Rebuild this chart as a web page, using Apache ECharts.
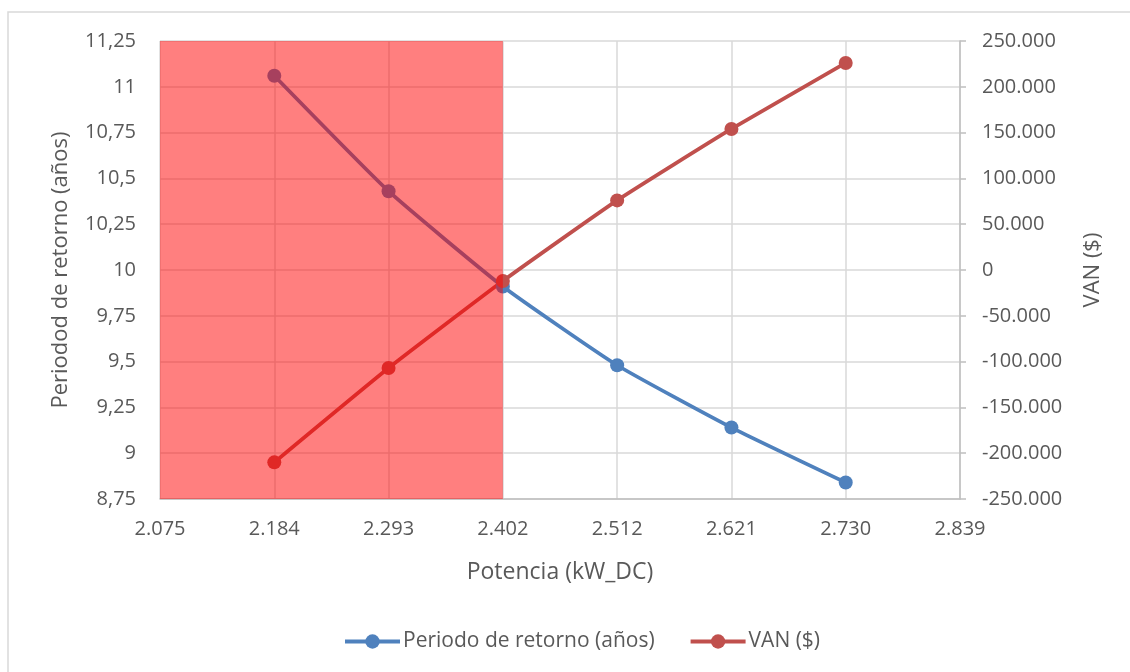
<!DOCTYPE html>
<html>
<head>
<meta charset="utf-8">
<script src="https://cdn.jsdelivr.net/npm/echarts@6/dist/echarts.min.js"></script>
<style>
  html, body { margin: 0; padding: 0; background: #fff; }
  #chart { width: 1130px; height: 672px; }
</style>
</head>
<body>
<div id="chart"></div>
<script>
// Potencia instalada (kW_DC) de cada escenario
const potencia = [2184, 2293.2, 2402.4, 2511.6, 2620.8, 2730];
// Periodo de retorno (años)
const periodo = [11.06, 10.43, 9.91, 9.48, 9.14, 8.84];
// Valor actual neto ($)
const van = [-210000, -107000, -12000, 76000, 154000, 226000];

// Ejes
const xMin = 2074.8, xMax = 2839.2, xStep = 109.2;
const yMin = 8.75, yMax = 11.25, yStep = 0.25;
const vanMin = -250000, vanMax = 250000, vanStep = 50000;

// Zona no rentable (VAN negativo)
const zonaNoRentable = [2074.8, 2402.4];

const nombres = ['Periodo de retorno (años)', 'VAN ($)'];

const FONT = 'Open Sans';
const TXT = '#595959';

function miles(v) {
  const n = Math.round(Math.abs(v));
  const s = String(n).replace(/\B(?=(\d{3})+(?!\d))/g, '.');
  return (v < 0 ? '-' : '') + s;
}

const chart = echarts.init(document.getElementById('chart'));

chart.setOption({
  animation: false,
  backgroundColor: '#fff',
  textStyle: { fontFamily: FONT, color: TXT },
  graphic: [{
    type: 'rect',
    shape: { x: 8, y: 12, width: 1200, height: 700 },
    style: { fill: 'none', stroke: '#D9D9D9', lineWidth: 1.5 },
    silent: true,
    z: -10
  }],
  grid: { left: 160, right: 170, top: 41, bottom: 173 },
  legend: {
    data: nombres,
    left: 338,
    top: 626,
    itemWidth: 55,
    itemHeight: 18,
    itemGap: 34,
    lineStyle: { width: 4 },
    textStyle: { fontFamily: FONT, fontSize: 21, color: TXT, padding: [0, 0, 0, -2] }
  },
  xAxis: {
    type: 'value',
    min: xMin, max: xMax, interval: xStep,
    name: 'Potencia (kW_DC)',
    nameLocation: 'middle',
    nameGap: 62,
    nameTextStyle: { fontFamily: FONT, fontSize: 23, color: TXT },
    axisLine: { show: true, onZero: false, lineStyle: { color: '#BFBFBF', width: 1.5 } },
    axisTick: { show: false },
    axisLabel: {
      fontFamily: FONT, fontSize: 20, color: TXT, margin: 20,
      formatter: v => miles(v)
    },
    splitLine: { show: true, lineStyle: { color: '#D9D9D9', width: 1.5 } }
  },
  yAxis: [{
    type: 'value',
    min: yMin, max: yMax, interval: yStep,
    name: 'Periodod de retorno (años)',
    nameLocation: 'middle',
    nameGap: 88,
    nameTextStyle: { fontFamily: FONT, fontSize: 22, color: TXT },
    axisLine: { show: false },
    axisTick: { show: false },
    axisLabel: {
      fontFamily: FONT, fontSize: 20, color: TXT, margin: 24,
      formatter: v => String(Math.round(v * 100) / 100).replace('.', ',')
    },
    splitLine: { show: true, lineStyle: { color: '#D9D9D9', width: 1.5 } }
  }, {
    type: 'value',
    position: 'right',
    min: vanMin, max: vanMax, interval: vanStep,
    name: 'VAN ($)',
    nameLocation: 'middle',
    nameGap: 122,
    nameTextStyle: { fontFamily: FONT, fontSize: 22, color: TXT },
    axisLine: { show: true, lineStyle: { color: '#BFBFBF', width: 1.5 } },
    axisTick: { show: true, length: 6, lineStyle: { color: '#BFBFBF', width: 1.5 } },
    axisLabel: {
      fontFamily: FONT, fontSize: 20, color: TXT, margin: 22,
      formatter: v => miles(v)
    },
    splitLine: { show: false }
  }],
  series: [{
    name: nombres[0],
    type: 'line',
    yAxisIndex: 0,
    data: potencia.map((x, i) => [x, periodo[i]]),
    smooth: 0.15,
    symbol: 'circle',
    symbolSize: 14,
    lineStyle: { color: '#4F81BD', width: 3.75 },
    itemStyle: { color: '#4F81BD' },
    z: 3
  }, {
    name: nombres[1],
    type: 'line',
    yAxisIndex: 1,
    data: potencia.map((x, i) => [x, van[i]]),
    smooth: 0.15,
    symbol: 'circle',
    symbolSize: 14,
    lineStyle: { color: '#C0504D', width: 3.75 },
    itemStyle: { color: '#C0504D' },
    z: 3
  }, {
    name: 'zona',
    type: 'custom',
    yAxisIndex: 0,
    silent: true,
    z: 10,
    data: [[zonaNoRentable[0], zonaNoRentable[1], yMin, yMax]],
    encode: { x: [0, 1], y: [2, 3] },
    renderItem: function (params, api) {
      const p0 = api.coord([api.value(0), api.value(3)]);
      const p1 = api.coord([api.value(1), api.value(2)]);
      return {
        type: 'rect',
        shape: { x: p0[0], y: p0[1], width: p1[0] - p0[0], height: p1[1] - p0[1] },
        style: { fill: 'rgba(255,0,0,0.5)' }
      };
    }
  }]
});
</script>
</body>
</html>
